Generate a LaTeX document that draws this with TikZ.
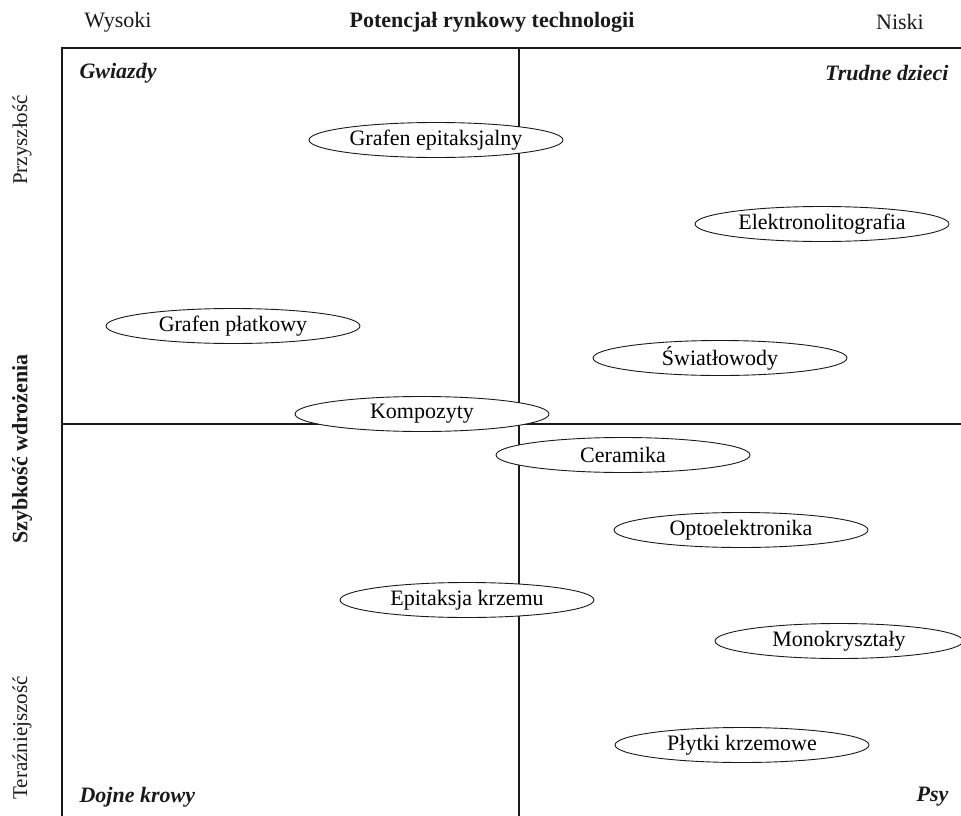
\documentclass[tikz,border=0pt]{standalone}
\usepackage{fontspec}
\setmainfont{Liberation Serif}
\usetikzlibrary{shapes.geometric, positioning}
\definecolor{inkblk}{HTML}{1A1A1A}

\begin{document}
\begin{tikzpicture}[
  x=1pt, y=-1pt,
  tech/.style={ellipse, draw=inkblk, fill=white, line width=0.9pt,
    minimum width=254pt, minimum height=35pt, inner sep=0pt,
    font=\fontsize{22}{26}\selectfont},
  quad/.style={text=inkblk, font=\fontsize{22}{26}\selectfont\bfseries\itshape},
  axlbl/.style={text=inkblk, font=\fontsize{22}{26}\selectfont},
  sidelbl/.style={text=inkblk, rotate=90, font=\fontsize{21}{25}\selectfont},
]

% Page: 961 x 816, origin top left, y grows downward
\useasboundingbox (0,0) rectangle (961,816);

\pgfmathsetmacro{\boxl}{62}     % left edge of matrix
\pgfmathsetmacro{\boxt}{48}     % top edge of matrix
\pgfmathsetmacro{\midx}{519}    % vertical divider
\pgfmathsetmacro{\midy}{424}    % horizontal divider

% --- Frame and dividers ---
\draw[inkblk, line width=1.4pt] (961,\boxt) -- (\boxl,\boxt) -- (\boxl,816);
\draw[inkblk, line width=1.4pt] (\midx,\boxt) -- (\midx,816);
\draw[inkblk, line width=1.4pt] (\boxl,\midy) -- (961,\midy);

% --- Top axis ---
\node[axlbl] (wysoki) at (118,22) {Wysoki};
\node[axlbl, font=\fontsize{22}{26}\selectfont\bfseries] (potencjal) at (492,22)
  {Potencjał rynkowy technologii};
\node[axlbl] (niski) at (900,22) {Niski};

% --- Side axis ---
\node[sidelbl] (przyszlosc) at (22,140) {Przyszłość};
\node[sidelbl, font=\fontsize{22}{26}\selectfont\bfseries] (szybkosc) at (22,449)
  {Szybkość wdrożenia};
\node[sidelbl] (terazniejszosc) at (22,738) {Teraźniejszość};

% --- Quadrant names ---
\node[quad, anchor=west] (gwiazdy) at (76,73) {Gwiazdy};
\node[quad, anchor=east] (trudne) at (952,73) {Trudne dzieci};
\node[quad, anchor=west] (dojne) at (76,797) {Dojne krowy};
\node[quad, anchor=east] (psy) at (952,797) {Psy};

% --- Technologies ---
\node[tech] (grafenepi) at (436,140) {Grafen epitaksjalny};
\node[tech] (elektrono) at (822,224) {Elektronolitografia};
\node[tech] (grafenplat) at (233,326) {Grafen płatkowy};
\node[tech] (swiatlo) at (720,358) {Światłowody};
\node[tech] (kompozyty) at (422,414) {Kompozyty};
\node[tech] (ceramika) at (623,455) {Ceramika};
\node[tech] (opto) at (741,530) {Optoelektronika};
\node[tech] (epikrzem) at (467,600) {Epitaksja krzemu};
\node[tech, minimum width=248pt] (monokr) at (839,641) {Monokryształy};
\node[tech] (plytki) at (742,745) {Płytki krzemowe};

\end{tikzpicture}
\end{document}
